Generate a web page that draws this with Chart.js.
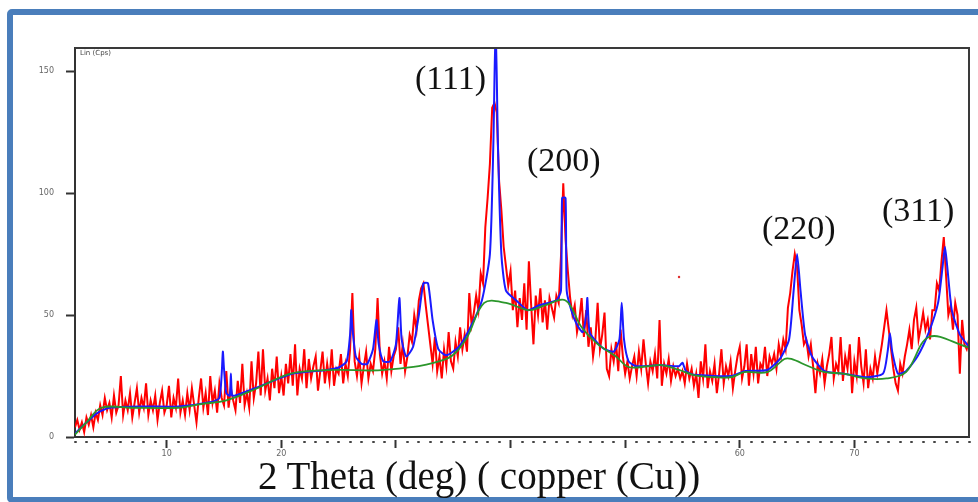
<!DOCTYPE html>
<html>
<head>
<meta charset="utf-8">
<script src="https://cdn.jsdelivr.net/npm/chart.js@4.4.1/dist/chart.umd.min.js"></script>
<style>
  html, body { margin: 0; padding: 0; background: #fff; }
  #wrap { position: relative; width: 978px; height: 502px; overflow: hidden; }
  #xrd { position: absolute; left: 0; top: 0; }
  .frame {
    position: absolute; left: 7px; top: 9px; width: 990px; height: 482px;
    border: 6px solid #4a7ebb; border-radius: 5px; pointer-events: none;
  }
  .lbl { position: absolute; font-family: "Liberation Serif", serif; color: #111; line-height: 1; white-space: nowrap; }
  .peak { font-size: 34px; }
  .xtitle { font-size: 39px; }
  .ytag { position: absolute; font-family: "DejaVu Sans", sans-serif; font-size: 7px; color: #444; }
</style>
</head>
<body>
<div id="wrap">
  <canvas id="xrd" width="978" height="502"></canvas>
  <div class="frame"></div>
  <div class="ytag" style="left:80px; top:49px;">Lin (Cps)</div>
  <div class="lbl peak" style="left:415px; top:61px;">(111)</div>
  <div class="lbl peak" style="left:527px; top:143px;">(200)</div>
  <div class="lbl peak" style="left:762px; top:211px;">(220)</div>
  <div class="lbl peak" style="left:882px; top:193px;">(311)</div>
  <div class="lbl xtitle" style="left:258px; top:456px;">2 Theta (deg) ( copper (Cu))</div>
</div>
<script>
const redStart = 2;
const redStep = 0.2;
const redY = [
  4, 7, 3, 6, 2,      8, 5, 9, 4, 10,     7, 13, 9, 16, 11,   14, 8, 17, 10, 13,
  25, 9, 15, 11, 18,  8, 14, 20, 10, 16,  12, 22, 9, 15, 11,  17, 7, 14, 19, 10,
  13, 21, 8, 16, 12,  24, 10, 15, 9, 18,  11, 20, 13, 6, 16,  24, 12, 18, 9, 25,
  14, 19, 10, 22, 16, 13, 27, 12, 20, 15, 11, 23, 14, 30, 13, 18, 12, 31, 16, 22,
  35, 17, 36, 19, 24, 15, 28, 20, 33, 18, 25, 17, 30, 22, 34, 21, 38, 17, 28, 24,
  36, 20, 32, 24, 29, 33, 19, 27, 35, 22, 30, 23, 36, 21, 28, 26, 34, 22, 30, 25,
  36, 59, 31, 25, 33, 22, 29, 35, 24, 30, 27, 36, 57, 34, 26, 31, 24, 37, 27, 33,
  36, 45, 30, 38, 27, 33, 42, 39, 50, 44, 56, 61, 63, 54, 46, 38, 30, 41, 27, 33,
  24, 36, 29, 43, 31, 28, 39, 33, 45, 36, 42, 35, 59, 46, 51, 58, 52, 67, 63, 86,
  98, 112, 135, 137, 133, 105, 93, 78, 70, 62, 68, 52, 60, 45, 57, 48, 63, 44, 72, 54,
  38, 58, 50, 61, 47, 56, 44, 57, 53, 49, 58, 55, 74, 104, 81, 68, 57, 50, 54, 43,
  48, 57, 41, 52, 37, 45, 33, 40, 55, 36, 42, 51, 28, 25, 36, 31, 39, 27, 44, 33,
  26, 31, 24, 29, 33, 25, 35, 28, 40, 30, 22, 31, 27, 34, 24, 48, 21, 30, 26, 32,
  23, 29, 25, 28, 24, 27, 22, 30, 24, 28, 21, 26, 16, 31, 24, 38, 20, 27, 23, 30,
  18, 26, 36, 22, 29, 25, 31, 20, 27, 33, 37, 24, 29, 38, 21, 34, 26, 37, 22, 30,
  28, 37, 25, 33, 30, 34, 28, 38, 33, 40, 36, 53, 59, 68, 75, 70, 52, 46, 38, 40,
  33, 38, 29, 18, 30, 26, 32, 22, 29, 34, 41, 24, 30, 27, 41, 23, 33, 28, 38, 18,
  31, 25, 41, 29, 22, 36, 20, 28, 24, 33, 26, 32, 38, 45, 52, 44, 36, 28, 22, 19,
  30, 26, 33, 38, 44, 36, 48, 53, 40, 45, 51, 44, 48, 40, 52, 52, 63, 60, 72, 82,
  66, 50, 54, 44, 55, 50, 26, 48, 38, 36, 40
];
// stray red mark right of the (200) region
const strayX = [54.7];
const strayY = [65.6];

// calculated profile (blue)
const blueX = [2, 3, 4, 5, 8, 11, 14, 14.6, 14.8, 14.9, 15.0, 15.2, 15.5, 15.6, 15.7, 16, 18, 21, 24, 25,
  25.7, 26.0, 26.1, 26.2, 26.5, 27, 27.5, 28.0, 28.3, 28.5, 28.9, 29.5, 30.0, 30.3, 30.5, 30.9, 31.5, 32.0, 32.4, 32.8,
  33.2, 33.7, 34.4, 35.5, 36.5, 37.5, 38.2, 38.5, 38.7, 38.9, 39.2, 39.6, 40.5, 41.5, 42.5, 44.0, 44.4, 44.5, 44.8, 44.9,
  45.3, 45.8, 46.3, 46.6, 46.7, 46.9, 47.5, 48.2, 49.0, 49.5, 49.7, 49.9, 50.3, 51.0, 53.0, 54.7, 55.0, 55.3, 56, 59.3,
  60.4, 62.4, 63.5, 64.3, 64.7, 65.0, 65.3, 65.7, 66.3, 67.4, 69, 71, 72.5, 72.9, 73.1, 73.3, 73.8, 74.5, 75.5, 76.5,
  77.3, 77.7, 77.9, 78.1, 78.5, 79.2, 80];
const blueY = [1.5, 6, 10, 12, 12.5, 12.5, 14.5, 16, 26, 35, 28, 18, 17, 26, 17, 17, 20.5, 26, 27.5, 28.5,
  31, 42, 52, 45, 33, 30, 30, 36, 48, 38, 31, 31, 38, 57, 40, 33, 37, 50, 63, 63,
  48, 36, 33.5, 37, 45, 56, 75, 120, 170, 120, 75, 60, 56, 52, 54, 56, 60, 98, 98, 60,
  52, 46, 43, 50, 57, 43, 39, 36, 35, 40, 55, 40, 31, 29, 29.5, 29, 30.5, 27, 25.5, 25,
  27, 27.5, 32, 40, 60, 75, 60, 42, 33, 27, 26, 24.5, 26, 35, 42.5, 35, 26, 27, 33, 43,
  55, 70, 78, 70, 52, 42, 37];

// background (green)
const bgX = [2, 3, 4.3, 7, 11, 13, 15.2, 17.9, 20.8, 24.6, 29, 34.4, 36.1, 37.7, 39.6, 41.6, 43, 44.8, 46.2, 47.5,
  49.2, 50.3, 52, 53.2, 54.7, 56, 58, 59.3, 60.4, 62.4, 63.9, 64.5, 66, 67.4, 69, 71, 72.8, 74.5, 76.5, 79.8, 80];
const bgY = [1, 6, 12, 12, 12, 13.5, 15, 20, 26, 27.5, 27.5, 32, 40, 55, 55, 52, 54, 56, 45, 38.5,
  33, 28.7, 29, 29.5, 27.5, 25.4, 24.5, 24.6, 26.6, 26.6, 32, 32, 29, 26.6, 26, 24, 24, 26.6, 41, 37, 36.8];

// axis ticks
const yTicks = [0, 50, 100, 150];
const xMajor = [10, 20, 30, 40, 50, 60, 70];
const xMajorText = ['10', '20', '', '', '', '60', '70'];

const toPts = (xs, ys) => xs.map((x, i) => ({ x: x, y: ys[i] }));
const redPts = redY.map((y, i) => ({ x: +(redStart + i * redStep).toFixed(2), y: y }));

const framePlugin = {
  id: 'frame',
  afterDatasetsDraw(chart) {
    const a = chart.chartArea, c = chart.ctx;
    c.save();
    c.strokeStyle = '#3a3a3a';
    c.lineWidth = 2;
    c.beginPath();
    c.moveTo(a.left, a.top);
    c.lineTo(a.right, a.top);
    c.lineTo(a.right, a.bottom);
    c.stroke();
    c.restore();
  }
};

const isMajor = v => xMajor.indexOf(v) !== -1;

new Chart(document.getElementById('xrd').getContext('2d'), {
  type: 'line',
  data: {
    datasets: [
      {
        label: 'Background',
        data: toPts(bgX, bgY),
        borderColor: '#2b962b',
        borderWidth: 1.8,
        pointRadius: 0,
        tension: 0.35,
        order: 0
      },
      {
        label: 'Calculated',
        data: toPts(blueX, blueY),
        borderColor: '#1a1aff',
        borderWidth: 2,
        pointRadius: 0,
        tension: 0.2,
        order: 1
      },
      {
        label: 'Observed',
        data: redPts,
        borderColor: '#ff0000',
        borderWidth: 2,
        pointRadius: 0,
        tension: 0,
        order: 2
      },
      {
        label: 'stray',
        data: toPts(strayX, strayY),
        showLine: false,
        pointRadius: 1.2,
        pointBackgroundColor: '#e03030',
        pointBorderWidth: 0,
        order: 3
      }
    ]
  },
  options: {
    responsive: false,
    animation: false,
    events: [],
    layout: { padding: { left: 35, top: 48, right: 9, bottom: 0 } },
    plugins: { legend: { display: false }, tooltip: { enabled: false } },
    scales: {
      x: {
        type: 'linear',
        min: 2,
        max: 80,
        afterFit: s => { s.height = 65; },
        afterBuildTicks: s => {
          const t = [];
          for (let v = 2; v <= 80; v++) t.push({ value: v });
          s.ticks = t;
        },
        ticks: {
          autoSkip: false,
          maxRotation: 0,
          padding: 1,
          color: '#666',
          font: { family: 'DejaVu Sans', size: 8 },
          callback: v => {
            const k = xMajor.indexOf(v);
            return k === -1 ? '' : xMajorText[k];
          }
        },
        grid: {
          drawOnChartArea: false,
          drawTicks: true,
          tickLength: 11,
          tickColor: ctx => isMajor(ctx.tick && ctx.tick.value) ? '#333' : '#444',
          tickWidth: ctx => isMajor(ctx.tick && ctx.tick.value) ? 2 : 2.5,
          tickBorderDash: ctx => isMajor(ctx.tick && ctx.tick.value) ? [0, 2, 9, 20] : [0, 3, 2, 20]
        },
        border: { display: true, color: '#333', width: 2 }
      },
      y: {
        min: 0,
        max: 159.5,
        afterFit: s => { s.width = 40; },
        afterBuildTicks: s => { s.ticks = yTicks.map(v => ({ value: v })); },
        ticks: {
          padding: 12,
          color: '#666',
          font: { family: 'DejaVu Sans', size: 8 }
        },
        grid: {
          drawOnChartArea: false,
          drawTicks: true,
          tickLength: 9,
          tickColor: '#333',
          tickWidth: 2
        },
        border: { display: true, color: '#333', width: 2 }
      }
    }
  },
  plugins: [framePlugin]
});
</script>
</body>
</html>
